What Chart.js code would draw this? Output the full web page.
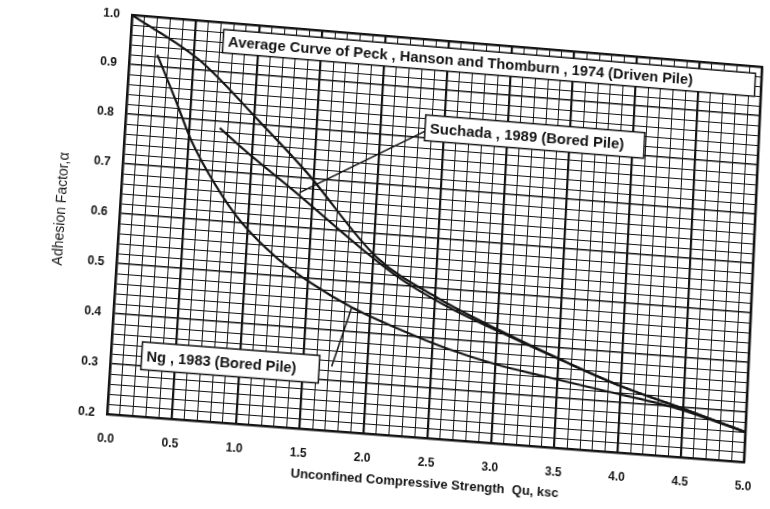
<!DOCTYPE html>
<html>
<head>
<meta charset="utf-8">
<script src="https://cdn.jsdelivr.net/npm/chart.js@4.4.1/dist/chart.umd.min.js"></script>
<style>
  html, body { margin: 0; padding: 0; background: #fff; overflow: hidden; }
  #wrap {
    position: absolute; left: 0; top: 0; width: 770px; height: 509px;
    transform-origin: 0 0;
  }
</style>
</head>
<body>
<div id="wrap"><canvas id="alphaChart" width="770" height="509"></canvas></div>
<script>
// tick labels
const xTickLabels = ['0.0', '0.5', '1.0', '1.5', '2.0', '2.5', '3.0', '3.5', '4.0', '4.5', '5.0'];
const yTickLabels = ['0.2', '0.3', '0.4', '0.5', '0.6', '0.7', '0.8', '0.9', '1.0'];

// Peck, Hanson and Thomburn 1974 (driven pile)
const peckQu    = [0.0, 0.55, 1.045, 1.44, 2.03, 2.52, 3.02, 3.515, 4.01, 4.505, 5.0];
const peckAlpha = [1.0, 0.92, 0.807, 0.712, 0.552, 0.481, 0.426, 0.377, 0.332, 0.297, 0.26];

// Suchada 1989 (bored pile)
const suchadaQu    = [0.74, 0.92, 1.395, 1.88, 2.226, 2.62, 3.02, 3.515, 4.01, 4.505, 5.0];
const suchadaAlpha = [0.787, 0.751, 0.664, 0.572, 0.513, 0.463, 0.423, 0.376, 0.332, 0.297, 0.26];

// Ng 1983 (bored pile)
const ngQu    = [0.217, 0.38, 0.52, 0.733, 0.95, 1.255, 1.52, 1.85, 2.216, 2.634, 3.01, 3.41, 3.848, 4.425, 5.0];
const ngAlpha = [0.924, 0.837, 0.759, 0.672, 0.602, 0.534, 0.4915, 0.449, 0.414, 0.38, 0.357, 0.34, 0.322, 0.298, 0.26];

const peckText = 'Average Curve of Peck , Hanson and Thomburn , 1974 (Driven Pile)';
const suchadaText = 'Suchada , 1989 (Bored Pile)';
const ngText = 'Ng , 1983 (Bored Pile)';

const ink = '#141414';
const fontFam = '"Liberation Sans", Arial, sans-serif';

function pts(xs, ys) {
    return xs.map((q, i) => ({ x: q, y: ys[i] }));
}

function curve(data) {
    return {
        data: data,
        borderColor: ink,
        borderWidth: 2.2,
        pointRadius: 0,
        fill: false,
        cubicInterpolationMode: 'monotone',
    };
}

// label boxes, pointer lines and top/right frame
const notesPlugin = {
    id: 'notes',
    afterDatasetsDraw(chart) {
        const { ctx, chartArea: a } = chart;
        const x = chart.scales.x, y = chart.scales.y;
        ctx.save();
        ctx.strokeStyle = ink;
        ctx.lineWidth = 2.5;
        ctx.beginPath();
        ctx.moveTo(a.left, a.top);
        ctx.lineTo(a.right, a.top);
        ctx.lineTo(a.right, a.bottom);
        ctx.stroke();

        // pointers
        ctx.lineWidth = 1.5;
        ctx.beginPath();
        ctx.moveTo(x.getPixelForValue(2.405), y.getPixelForValue(0.822));
        ctx.lineTo(x.getPixelForValue(1.392), y.getPixelForValue(0.67));
        ctx.moveTo(x.getPixelForValue(1.722), y.getPixelForValue(0.328));
        ctx.lineTo(x.getPixelForValue(1.853), y.getPixelForValue(0.449));
        ctx.stroke();

        const box = (text, x0, y0, x1, y1, size) => {
            const l = x.getPixelForValue(x0), r = x.getPixelForValue(x1);
            const t = y.getPixelForValue(y0), b = y.getPixelForValue(y1);
            ctx.fillStyle = '#fff';
            ctx.fillRect(l, t, r - l, b - t);
            ctx.lineWidth = 1.5;
            ctx.strokeStyle = ink;
            ctx.strokeRect(l, t, r - l, b - t);
            ctx.fillStyle = ink;
            ctx.font = 'bold ' + size + 'px ' + fontFam;
            ctx.textBaseline = 'middle';
            ctx.textAlign = 'left';
            ctx.fillText(text, l + 5, (t + b) / 2 + 1);
        };
        box(peckText, 0.725, 0.986, 4.95, 0.939, 14.8);
        box(suchadaText, 2.35, 0.847, 4.09, 0.795, 15);
        box(ngText, 0.24, 0.348, 1.625, 0.293, 14.5);
        ctx.restore();
    }
};

const ctx = document.getElementById('alphaChart');
const chart = new Chart(ctx, {
    type: 'line',
    data: {
        datasets: [
            curve(pts(peckQu, peckAlpha)),
            curve(pts(suchadaQu, suchadaAlpha)),
            curve(pts(ngQu, ngAlpha)),
        ],
    },
    options: {
        responsive: false,
        animation: false,
        devicePixelRatio: 1,
        layout: { padding: { top: 13, right: 25, left: 0, bottom: 0 } },
        plugins: { legend: { display: false }, tooltip: { enabled: false } },
        scales: {
            x: {
                type: 'linear',
                min: 0,
                max: 5,
                afterFit: (s) => { s.height = 96; },
                ticks: {
                    stepSize: 0.1,
                    maxTicksLimit: 1000,
                    autoSkip: false,
                    maxRotation: 0,
                    padding: 6,
                    color: ink,
                    font: { family: fontFam, size: 12, weight: 'bold' },
                    callback: (v) => {
                        const i = Math.round(v * 10);
                        return i % 5 === 0 ? xTickLabels[i / 5] : '';
                    },
                },
                grid: {
                    drawTicks: true,
                    tickLength: 11,
                    tickColor: 'rgba(0,0,0,0)',
                    color: ink,
                    lineWidth: (c) => (Math.round(c.tick.value * 10) % 5 === 0 ? 2.2 : 1),
                },
                border: { display: true, color: ink, width: 2.5 },
                title: {
                    display: true,
                    text: 'Unconfined Compressive Strength  Qu, ksc',
                    color: ink,
                    font: { family: fontFam, size: 13, weight: 'bold' },
                    padding: { top: 0, bottom: 43 },
                },
            },
            y: {
                type: 'linear',
                min: 0.2,
                max: 1.0,
                afterFit: (s) => { s.width = 107; },
                ticks: {
                    stepSize: 0.02,
                    maxTicksLimit: 1000,
                    autoSkip: false,
                    padding: 6,
                    color: ink,
                    font: { family: fontFam, size: 12, weight: 'bold' },
                    callback: (v) => {
                        const i = Math.round((v - 0.2) * 50);
                        return i % 5 === 0 ? yTickLabels[i / 5] : '';
                    },
                },
                grid: {
                    drawTicks: true,
                    tickLength: 6,
                    tickColor: 'rgba(0,0,0,0)',
                    color: ink,
                    lineWidth: (c) => (Math.round((c.tick.value - 0.2) * 50) % 5 === 0 ? 1.5 : 1),
                },
                border: { display: true, color: ink, width: 2.5 },
                title: {
                    display: true,
                    text: 'Adhesion Factor,α',
                    color: ink,
                    font: { family: fontFam, size: 14 },
                    padding: { top: 41, bottom: 0 },
                },
            },
        },
    },
    plugins: [notesPlugin],
});

// the scanned sheet is tilted and a bit skewed: map the plot frame onto
// the corners seen in the scan with a perspective transform
function homography(src, dst) {
    const A = [], B = [];
    for (let i = 0; i < 4; i++) {
        const [u, v] = src[i], [X, Y] = dst[i];
        A.push([u, v, 1, 0, 0, 0, -u * X, -v * X]); B.push(X);
        A.push([0, 0, 0, u, v, 1, -u * Y, -v * Y]); B.push(Y);
    }
    for (let c = 0; c < 8; c++) {
        let p = c;
        for (let r = c + 1; r < 8; r++) if (Math.abs(A[r][c]) > Math.abs(A[p][c])) p = r;
        [A[c], A[p]] = [A[p], A[c]];
        [B[c], B[p]] = [B[p], B[c]];
        for (let r = 0; r < 8; r++) {
            if (r === c) continue;
            const f = A[r][c] / A[c][c];
            for (let k = c; k < 8; k++) A[r][k] -= f * A[c][k];
            B[r] -= f * B[c];
        }
    }
    return B.map((b, i) => b / A[i][i]);
}

const ca = chart.chartArea;
const [ha, hb, hc, hd, he, hf, hg, hh] = homography(
    [[ca.left, ca.bottom], [ca.right, ca.bottom], [ca.left, ca.top], [ca.right, ca.top]],
    [[107, 414], [744, 462], [132, 15], [762, 67]]
);
document.getElementById('wrap').style.transform =
    `matrix3d(${ha},${hd},0,${hg},${hb},${he},0,${hh},0,0,1,0,${hc},${hf},0,1)`;
</script>
</body>
</html>
